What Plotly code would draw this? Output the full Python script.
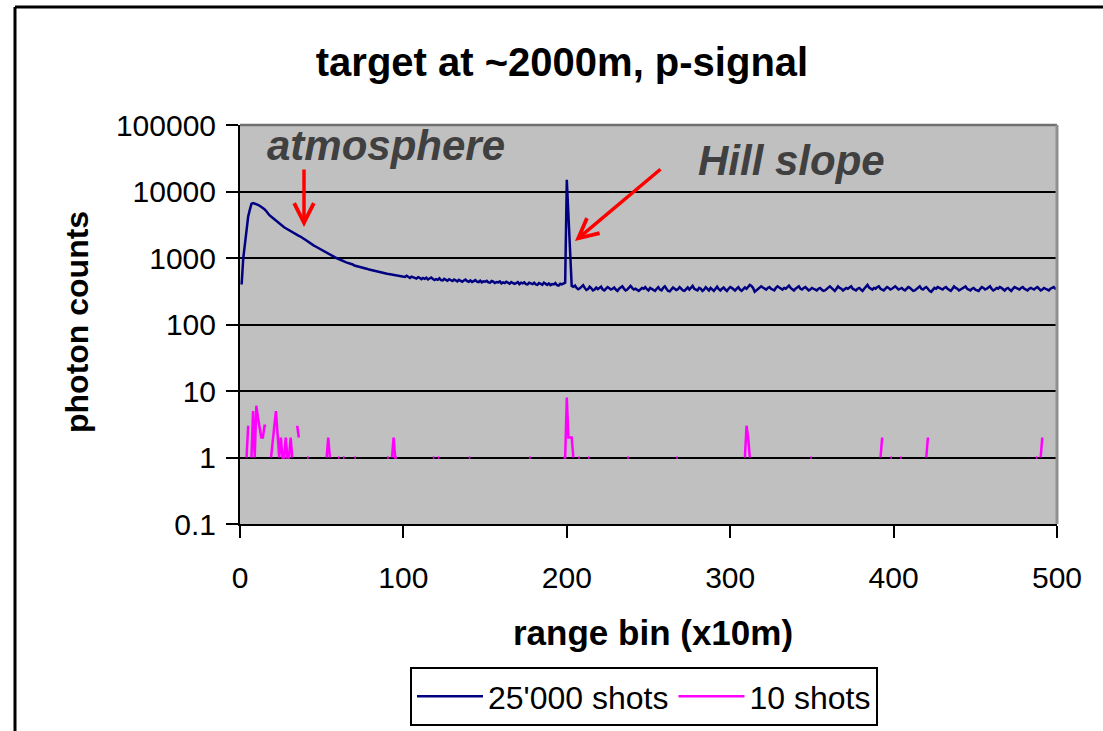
import plotly.graph_objects as go

# ---------------- data ----------------
title_text = "target at ~2000m, p-signal"
x_label = "range bin (x10m)"
y_label = "photon counts"
series_names = ["25'000 shots", "10 shots"]
y_tick_vals = [0.1, 1, 10, 100, 1000, 10000, 100000]
y_tick_text = ["0.1", "1", "10", "100", "1000", "10000", "100000"]
x_tick_vals = [0, 100, 200, 300, 400, 500]

# 25'000 shots, bins 1..500 (segments start at the bin noted)
blue_1_100 = [
    400, 1000, 1600, 3000, 4200, 5300, 6500, 6700, 6600, 6500,
    6300, 6100, 5900, 5600, 5400, 5100, 4700, 4400, 4200, 4000,
    3800, 3600, 3450, 3300, 3150, 3000, 2900, 2800, 2700, 2600,
    2550, 2450, 2350, 2300, 2200, 2150, 2100, 2000, 1950, 1880,
    1800, 1750, 1680, 1620, 1550, 1500, 1450, 1420, 1370, 1320,
    1270, 1240, 1200, 1160, 1120, 1100, 1060, 1030, 1000, 980,
    950, 930, 910, 880, 860, 850, 830, 810, 800, 770,
    760, 755, 740, 720, 715, 700, 690, 685, 670, 660,
    650, 645, 630, 620, 615, 605, 600, 595, 590, 580,
    575, 570, 560, 555, 550, 545, 540, 535, 530, 525,
]
blue_101_199 = [
    520, 540, 515, 500, 525, 510, 495, 490, 515, 505,
    480, 500, 485, 505, 475, 490, 510, 485, 465, 480,
    470, 495, 465, 460, 485, 470, 455, 480, 465, 450,
    475, 460, 445, 470, 455, 440, 460, 475, 450, 440,
    460, 435, 450, 465, 440, 435, 455, 430, 445, 440,
    455, 430, 425, 450, 440, 420, 435, 430, 445, 415,
    430, 420, 440, 420, 410, 435, 425, 410, 420, 435,
    405, 425, 415, 430, 405, 400, 425, 415, 405, 425,
    400, 395, 420, 410, 395, 425, 405, 395, 415, 390,
    405, 400, 420, 390, 385, 410, 400, 410, 425,
]
blue_200_203 = [15000, 4500, 1800, 380]
blue_204_500 = [
    370, 385, 355, 340, 350, 375, 390, 355, 330, 340, 370, 350, 325, 335, 360, 340, 350, 370, 335, 325, 345, 365, 350, 335, 345,
    360, 335, 320, 345, 355, 375, 345, 325, 335, 360, 380, 355, 335, 345, 330, 320, 335, 355, 345, 365, 340, 325, 355, 345, 335,
    320, 345, 365, 335, 325, 355, 375, 345, 320, 315, 340, 360, 345, 330, 340, 365, 345, 325, 320, 345, 360, 335, 365, 380, 345,
    335, 325, 355, 345, 320, 335, 365, 345, 325, 355, 340, 320, 345, 370, 340, 325, 345, 360, 335, 320, 345, 365, 355, 335, 325,
    345, 365, 335, 320, 340, 360, 345, 375, 395, 380, 355, 310, 325, 345, 355, 375, 360, 345, 335, 355, 365, 345, 335, 325, 355,
    375, 360, 345, 335, 355, 345, 365, 385, 355, 335, 325, 345, 355, 375, 345, 335, 355, 365, 345, 325, 335, 355, 345, 335, 325,
    345, 355, 335, 320, 325, 345, 365, 375, 355, 335, 320, 345, 375, 355, 345, 325, 335, 355, 345, 365, 375, 345, 335, 325, 345,
    355, 335, 320, 345, 375, 395, 360, 345, 335, 355, 345, 365, 375, 345, 335, 325, 345, 365, 355, 335, 345, 365, 375, 355, 335,
    345, 355, 335, 325, 345, 365, 355, 335, 320, 325, 345, 355, 375, 345, 335, 355, 365, 345, 320, 310, 335, 355, 345, 365, 355,
    345, 335, 355, 365, 345, 335, 320, 345, 375, 355, 345, 325, 335, 355, 365, 375, 345, 335, 325, 345, 355, 335, 325, 320, 345,
    365, 355, 335, 345, 355, 375, 345, 325, 335, 355, 345, 365, 355, 335, 325, 345, 355, 335, 320, 345, 365, 355, 345, 335, 355,
    365, 345, 335, 325, 345, 355, 345, 335, 355, 365, 345, 325, 335, 355, 345, 335, 325, 345, 355, 365, 345, 340,
]

# 10 shots: bins with non-zero counts (zero counts are not drawn on a log axis)
pink_bins = [4, 5, 7, 8, 9, 10, 11, 12, 13, 14, 15, 16,
             19, 20, 21, 22, 23, 24, 25, 26, 27, 28, 29, 30, 31, 32,
             35, 36, 41, 42, 53, 54, 55, 60, 61, 63, 64, 70, 71, 90, 91,
             93, 94, 95, 96, 118, 119, 121, 122, 140, 141, 177, 178,
             198, 199, 200, 201, 202, 203, 204, 207, 208, 213, 214,
             237, 238, 267, 268, 309, 310, 311, 312, 349, 350,
             392, 393, 398, 399, 404, 405, 420, 421, 487, 488, 490, 491]
pink_vals = [1, 3, 1, 5, 1, 6, 4, 3, 2, 2, 3, 3,
             1, 2, 3, 5, 2, 1, 2, 1, 1, 2, 1, 1, 2, 1,
             3, 2, 1, 1, 1, 2, 1, 1, 1, 1, 1, 1, 1, 1, 1,
             1, 2, 1, 1, 1, 1, 1, 1, 1, 1, 1, 1,
             1, 1, 8, 2, 2, 2, 1, 1, 1, 1, 1,
             1, 1, 1, 1, 1, 3, 2, 1, 1, 1,
             1, 2, 1, 1, 1, 1, 1, 2, 1, 1, 1, 2]

# ---------------- assemble ----------------
blue = blue_1_100 + blue_101_199 + blue_200_203 + blue_204_500
x_blue = list(range(1, len(blue) + 1))

x_pink = list(range(1, 501))
pink_map = dict(zip(pink_bins, pink_vals))
y_pink = [pink_map.get(b) for b in x_pink]

FONT = "Arial, 'Liberation Sans', sans-serif"
NAVY = "#000080"
MAGENTA = "#FF00FF"

fig = go.Figure()
fig.add_trace(go.Scatter(x=x_blue, y=blue, mode="lines", name=series_names[0],
                         line=dict(color=NAVY, width=2.5), connectgaps=False))
fig.add_trace(go.Scatter(x=x_pink, y=y_pink, mode="lines", name=series_names[1],
                         line=dict(color=MAGENTA, width=2.5), connectgaps=False))

W, H = 1103, 731
L, R, T, B = 240, 46, 125, 207
pw, ph = W - L - R, H - T - B

def px(xp):
    return (xp - L) / pw

def py(yp):
    return (H - B - yp) / ph

fig.update_layout(
    width=W, height=H,
    margin=dict(l=L, r=R, t=T, b=B, pad=0, autoexpand=False),
    paper_bgcolor="white",
    plot_bgcolor="#C0C0C0",
    font=dict(family=FONT, color="black", size=30),
    title=dict(text="<b>" + title_text + "</b>", x=562 / W, xanchor="center",
               y=1 - 62 / H, yanchor="middle", yref="container",
               font=dict(size=40, family=FONT, color="black")),
    showlegend=True,
    legend=dict(orientation="h", x=px(644), xanchor="center", y=py(667), yanchor="top",
                bgcolor="white", bordercolor="black", borderwidth=2,
                font=dict(size=32, family=FONT, color="black"),
                itemwidth=66, tracegroupgap=0),
    xaxis=dict(range=[0, 500], tickvals=x_tick_vals, showgrid=False, zeroline=False,
               showline=True, linecolor="black", linewidth=2,
               ticks="outside", ticklen=12, tickwidth=2, tickcolor="black",
               ticklabelstandoff=14,
               tickfont=dict(size=30, family=FONT, color="black")),
    yaxis=dict(type="log", range=[-1, 5], tickvals=y_tick_vals, ticktext=y_tick_text,
               showgrid=True, gridcolor="black", gridwidth=2, zeroline=False,
               showline=True, linecolor="black", linewidth=2,
               ticks="outside", ticklen=12, tickwidth=2, tickcolor="black",
               ticklabelstandoff=4,
               tickfont=dict(size=30, family=FONT, color="black")),
)

# plot area top / right border (gray)
fig.add_shape(type="line", xref="paper", yref="paper", x0=0, x1=1, y0=1, y1=1,
              line=dict(color="#707070", width=2.5))
fig.add_shape(type="line", xref="paper", yref="paper", x0=1, x1=1, y0=0, y1=1,
              line=dict(color="#909090", width=3))
# outer chart frame (left & top edges visible)
fig.add_shape(type="line", xref="paper", yref="paper", x0=px(15), x1=px(15), y0=py(7), y1=py(H + 5),
              line=dict(color="black", width=3))
fig.add_shape(type="line", xref="paper", yref="paper", x0=px(15), x1=px(W + 5), y0=py(7), y1=py(7),
              line=dict(color="black", width=3))

# axis titles
fig.add_annotation(text="<b>" + y_label + "</b>", xref="paper", yref="paper",
                   x=px(77), y=py(322), textangle=-90, showarrow=False,
                   xanchor="center", yanchor="middle",
                   font=dict(size=32, family=FONT, color="black"))
fig.add_annotation(text="<b>" + x_label + "</b>", xref="paper", yref="paper",
                   x=px(653), y=py(632), showarrow=False,
                   xanchor="center", yanchor="middle",
                   font=dict(size=35, family=FONT, color="black"))

# text labels
fig.add_annotation(text="<b><i>atmosphere</i></b>", xref="paper", yref="paper",
                   x=px(386), y=py(145), showarrow=False, xanchor="center", yanchor="middle",
                   font=dict(size=42, family=FONT, color="#404040"))
fig.add_annotation(text="<b><i>Hill slope</i></b>", xref="paper", yref="paper",
                   x=px(791), y=py(160), showarrow=False, xanchor="center", yanchor="middle",
                   font=dict(size=42, family=FONT, color="#404040"))
# red arrows
fig.add_annotation(text="", xref="paper", yref="paper", x=px(304), y=py(227),
                   ax=0, ay=-59, axref="pixel", ayref="pixel",
                   showarrow=True, arrowhead=5, arrowsize=1.1, arrowwidth=3.5, arrowcolor="#FF0000")
fig.add_annotation(text="", xref="paper", yref="paper", x=px(575), y=py(241),
                   ax=87, ay=-73, axref="pixel", ayref="pixel",
                   showarrow=True, arrowhead=5, arrowsize=1.1, arrowwidth=3.5, arrowcolor="#FF0000")

fig.write_html("out.html")
